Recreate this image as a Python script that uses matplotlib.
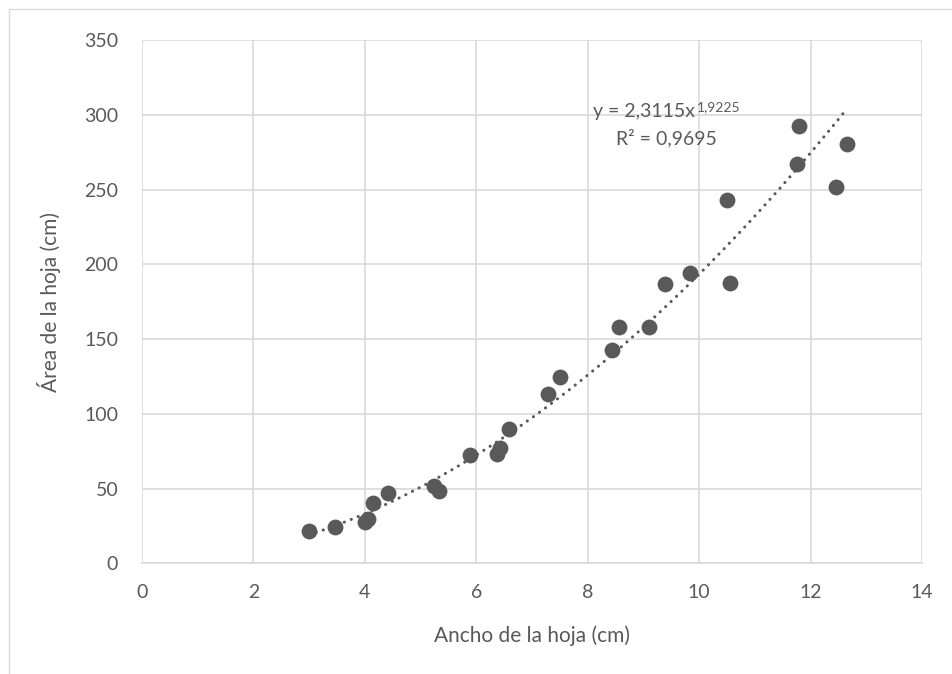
import matplotlib
matplotlib.use("Agg")
import matplotlib.pyplot as plt
import numpy as np

plt.rcParams['font.family'] = ['Lato', 'DejaVu Sans']

# Leaf width (cm) and leaf area (cm)
ancho = [3.0, 3.47, 4.0, 4.05, 4.15, 4.42, 5.24, 5.33, 5.89, 6.37, 6.43, 6.58,
         7.28, 7.51, 8.44, 8.57, 9.1, 9.38, 9.83, 10.5, 10.56, 11.75, 11.8,
         12.45, 12.65]
area = [22, 24.4, 27.5, 30, 40.4, 47, 51.7, 48.4, 72.4, 73.5, 77, 90.2,
        113.6, 124.7, 142.5, 158, 158, 186.6, 193.9, 242.7, 187.2, 267, 292.3,
        252, 280.5]

# power trendline y = a * x^b
coef_a, coef_b = 2.3115, 1.9225

gris = '#595959'

fig = plt.figure(figsize=(9.52, 6.74), dpi=100)
ax = fig.add_axes([0.149, 0.164, 0.8195, 0.7767])

# outer chart border
fig.patches.append(plt.Rectangle((9 / 952, -0.1), 1.2, 1 - 9 / 674 + 0.1,
                                 transform=fig.transFigure, fill=False,
                                 edgecolor='#D9D9D9', linewidth=1))

ax.scatter(ancho, area, s=130, color=gris, zorder=3, linewidths=0)

xt = np.linspace(min(ancho), max(ancho), 200)
ax.plot(xt, coef_a * xt ** coef_b, color=gris, linewidth=2.2,
        linestyle=(0, (0.05, 2.4)), dash_capstyle='round', zorder=2)

# trendline label
t = ax.text(8.1, 302.5, 'y = 2,3115x', color=gris, fontsize=14,
            va='center', ha='left')
ax.annotate('1,9225', xy=(1, 0.75), xycoords=t, xytext=(1, 0),
            textcoords='offset points', color=gris, fontsize=10,
            va='center', ha='left')
ax.text(8.5, 284.5, 'R² = 0,9695', color=gris, fontsize=14,
        va='center', ha='left')

ax.set_xlim(0, 14)
ax.set_ylim(0, 350)
ax.set_xticks(range(0, 15, 2))
ax.set_yticks(range(0, 351, 50))
ax.grid(True, color='#D9D9D9', linewidth=1.2)
ax.set_axisbelow(True)
for side in ['top', 'right', 'left']:
    ax.spines[side].set_visible(False)
ax.spines['bottom'].set_color('#D9D9D9')
ax.spines['bottom'].set_linewidth(1.2)
ax.tick_params(length=0, labelsize=14, labelcolor=gris)
ax.tick_params(axis='x', pad=15)
ax.tick_params(axis='y', pad=17)

ax.set_xlabel('Ancho de la hoja (cm)', fontsize=15, color=gris)
ax.set_ylabel('Área de la hoja (cm)', fontsize=15, color=gris)
ax.xaxis.set_label_coords(0.5, -0.118)
ax.yaxis.set_label_coords(-0.104, 0.5)

fig.savefig('out.png', dpi=100)
